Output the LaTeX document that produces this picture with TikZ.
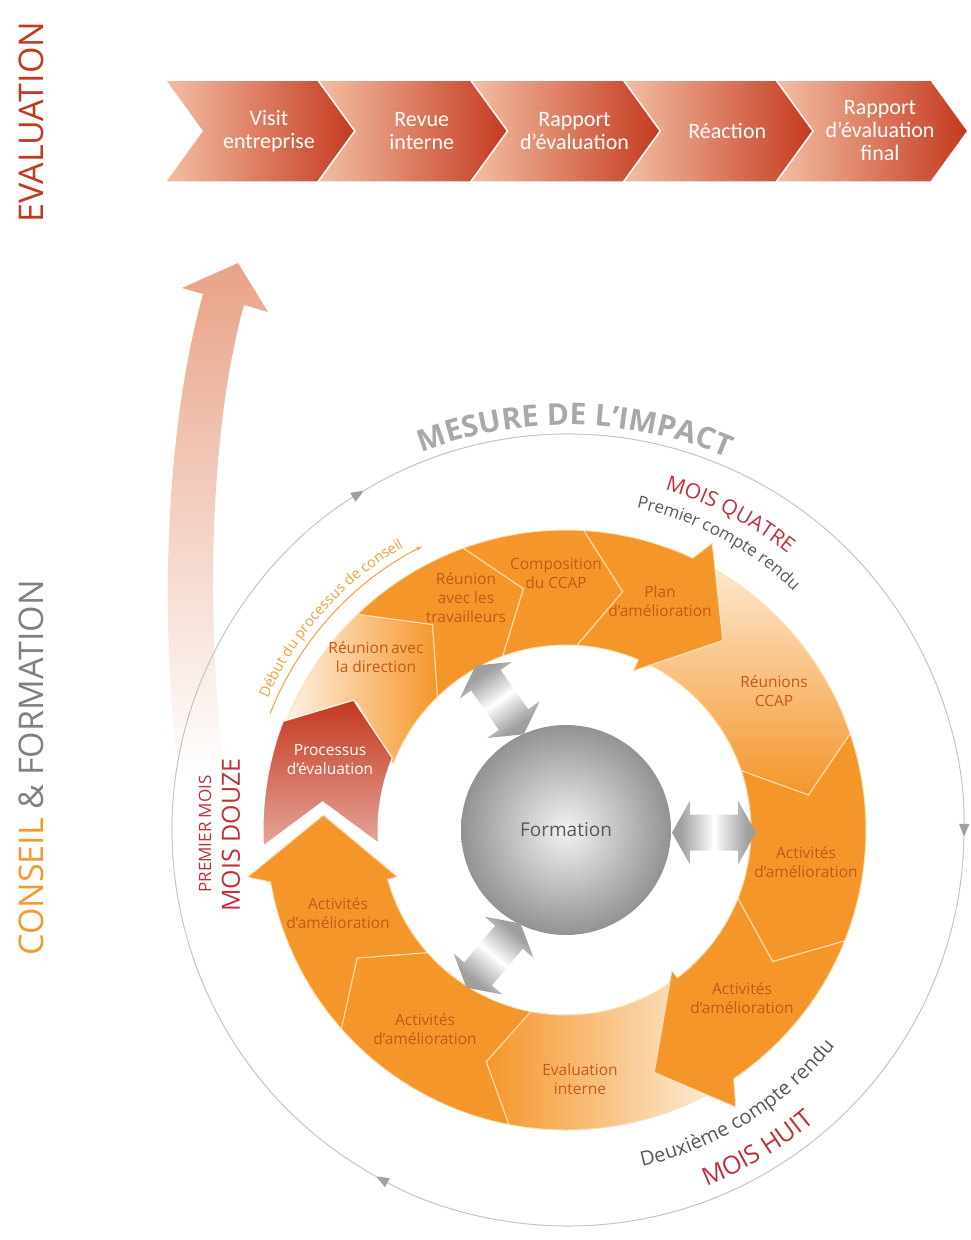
\documentclass[tikz,border=0pt]{standalone}
\usepackage{fontspec}
\setmainfont{Open Sans}
\newfontfamily\calib{Carlito}
\usepackage{xcolor}
\usetikzlibrary{positioning,calc,arrows.meta,decorations.text,shapes}

\definecolor{evalred}{HTML}{C4381E}
\definecolor{chevlight}{HTML}{F3BFA3}
\definecolor{ringorange}{HTML}{F5962A}
\definecolor{ringtext}{HTML}{C15A1B}
\definecolor{ringline}{HTML}{FCE0B4}
\definecolor{moisred}{HTML}{C0303A}
\definecolor{txtgray}{HTML}{595959}
\definecolor{titlegray}{HTML}{808080}
\definecolor{consorange}{HTML}{F29A2E}
\definecolor{circgray}{HTML}{C4C4C4}
\definecolor{tipgray}{HTML}{A0A0A0}
\definecolor{mesgray}{HTML}{A8A8A8}
\definecolor{debutorange}{HTML}{EDA23C}
\definecolor{salmonarrow}{HTML}{E9A287}

\pgfdeclarehorizontalshading{dblshade}{100bp}{color(0bp)=(gray!75); color(30bp)=(gray!75); color(45bp)=(gray!20); color(50bp)=(white); color(55bp)=(gray!20); color(70bp)=(gray!75); color(100bp)=(gray!75)}

\tikzset{
	chev/.style={left color=chevlight, right color=evalred, draw=white, line width=1.5pt},
	chevtext/.style={text=white, align=center, font=\calib\fontsize{22}{23}\selectfont},
	seg/.style={fill=ringorange, draw=ringline, line width=1pt},
	redseg/.style={top color=evalred, bottom color=evalred!45, draw=white, line width=1pt},
	segtext/.style={text=ringtext, align=center, font=\fontsize{15.5}{19}\selectfont},
	circ/.style={draw=circgray, line width=1pt, -{Triangle[length=13pt, width=10pt, color=tipgray]}},
	dblarrow/.style={shading=dblshade},
	bigtitle/.style={rotate=90, font=\fontsize{34}{34}\selectfont},
}

% one ring segment: start angle, start depth, end angle, end depth
\newcommand{\ringseg}[4]{(#1:300) arc[start angle=#1, end angle=#3, radius=300] -- ({#3-#4}:245) -- (#3:185) arc[start angle=#3, end angle=#1, radius=185] -- ({#1-#2}:245) -- cycle}

\begin{document}
\begin{tikzpicture}[x=1pt, y=1pt]
	\useasboundingbox (0,0) rectangle (971,-1240);

	% evaluation steps
	\foreach \i/\txt in {0/{Visit\\entreprise}, 1/{Revue\\interne}, 2/{Rapport\\d’évaluation}, 3/{Réaction}, 4/{Rapport\\d’évaluation\\final}} {
		\pgfmathsetmacro{\xa}{165+152.75*\i}
		\path[chev] (\xa,-80) -- ++(155,0) -- ++(37,-51) -- ++(-37,-51) -- ++(-155,0) -- ++(37,51) -- cycle;
		\node[chevtext] (etape\i) at (\xa+104,-131) {\txt};
	}

	\node[bigtitle, text=evalred] (evaltitle) at (31,-122) {EVALUATION};
	\node[bigtitle] (constitle) at (31,-768) {\textcolor{consorange}{CONSEIL} \textcolor{titlegray}{\& FORMATION}};

	% big arrow going up to the evaluation
	\path[top color=salmonarrow, bottom color=white] (178,-772) .. controls (158,-600) and (168,-420) .. (203,-294) -- (182,-288) -- (238,-263) -- (268,-312) -- (244,-305) .. controls (212,-420) and (204,-600) .. (224,-772) -- cycle;

	\begin{scope}[shift={(568,-830)}]
		\draw[circ] (241:396) arc[start angle=241, end angle=121, radius=396];
		\draw[circ] (121:396) arc[start angle=121, end angle=-1, radius=396];
		\draw[circ] (-1:396) arc[start angle=-1, end angle=-119, radius=396];
		\path[decorate, decoration={text along path, text align=center, text={|\color{mesgray}\bfseries\fontsize{30}{30}\selectfont|MESURE DE L'IMPACT}}] (120:405) arc[start angle=120, end angle=58, radius=405];
	\end{scope}

	\begin{scope}[shift={(566,-830)}]
		% ring
		\path[seg, left color=ringorange!12, right color=ringorange] \ringseg{159}{10.5}{134}{11};
		\path[seg] \ringseg{134}{11}{110}{10};
		\path[seg] \ringseg{110}{10}{86.6}{10};
		\path[seg, top color=ringorange!20, bottom color=ringorange] (64:300) arc[start angle=64, end angle=18.7, radius=300] -- (8.2:245) -- (18.7:185) arc[start angle=18.7, end angle=66, radius=185] -- (51:245) -- cycle;
		\path[seg] (86.6:300) arc[start angle=86.6, end angle=65, radius=300] -- (63:322) -- (50.4:246) -- (67:173) -- (67:185) arc[start angle=67, end angle=86.6, radius=185] -- (76.6:245) -- cycle;
		\path[seg] \ringseg{18.7}{10.5}{-21.7}{10.8};
		\path[seg, left color=ringorange, right color=ringorange!12] (-56:300) arc[start angle=-56, end angle=-101, radius=300] -- (-109:245) -- (-101:185) arc[start angle=-101, end angle=-53, radius=185] -- (-68:250) -- cycle;
		\path[seg] (-21.7:300) arc[start angle=-21.7, end angle=-56, radius=300] -- (-58.5:325) -- (-70:258) -- (-53:176) -- (-53:185) arc[start angle=-53, end angle=-21.7, radius=185] -- (-32.5:245) -- cycle;
		\path[seg] \ringseg{259}{8}{221.5}{10};
		\path[seg] (221.5:300) arc[start angle=221.5, end angle=190, radius=300] -- (188.4:322) -- (176.5:243) -- (195.5:175) -- (195.5:185) arc[start angle=195.5, end angle=221.5, radius=185] -- (211.5:245) -- cycle;
		\path[redseg] (183:303) arc[start angle=183, end angle=159, radius=303] -- (148.6:249) -- (157.5:188) arc[start angle=157.5, end angle=184, radius=188] -- (173.4:245) -- cycle;

		% centre
		\shade[inner color=gray!10, outer color=gray!85] (0,0) circle (105);
		\foreach \pa/\pr/\ori in {117/146/125, -1/148/0, 240/145/230} {
			\begin{scope}[shift={(\pa:\pr)}, rotate=\ori]
				\path[dblarrow, shading angle=\ori] (-42,0) -- (-24,32) -- (-24,18) -- (24,18) -- (24,32) -- (42,0) -- (24,-32) -- (24,-18) -- (-24,-18) -- (-24,-32) -- cycle;
			\end{scope}
		}

		% texts round the ring
		\draw[debutorange, line width=1pt, -{Stealth[length=6pt, width=4pt]}] (158.5:318) arc[start angle=158.5, end angle=117, radius=318];
		\path[decorate, decoration={text along path, text align=center, text={|\color{debutorange}\fontsize{14.5}{14.5}\selectfont|Début du processus de conseil}}] (162:326) arc[start angle=162, end angle=114, radius=326];
		\path[decorate, decoration={text along path, text align=center, text={|\color{moisred}\fontsize{21}{21}\selectfont|MOIS QUATRE}}] (85:354) arc[start angle=85, end angle=40, radius=354];
		\path[decorate, decoration={text along path, text align=center, text={|\color{txtgray}\fontsize{17}{17}\selectfont|Premier compte rendu}}] (85:330) arc[start angle=85, end angle=39, radius=330];
		\path[decorate, decoration={text along path, text align=center, text={|\color{txtgray}\fontsize{20}{20}\selectfont|Deuxième compte rendu}}] (-86:345) arc[start angle=-86, end angle=-30, radius=345];
		\path[decorate, decoration={text along path, text align=center, text={|\color{moisred}\fontsize{25}{25}\selectfont|MOIS HUIT}}] (-80:383) arc[start angle=-80, end angle=-38, radius=383];
	\end{scope}

	\node[text=txtgray, font=\fontsize{19}{19}\selectfont] (formation) at (566,-830) {Formation};
	\node[rotate=90, text=moisred, font=\fontsize{17}{17}\selectfont] (premier) at (205,-834) {PREMIER MOIS};
	\node[rotate=90, text=moisred, font=\fontsize{25}{25}\selectfont] (douze) at (231,-835) {MOIS DOUZE};

	\node[segtext, text=white] (processus) at (330,-760) {Processus\\d’évaluation};
	\node[segtext] (direction) at (376,-657) {Réunion\,avec\\la direction};
	\node[segtext] (travailleurs) at (466,-598) {Réunion\\avec les\\travailleurs};
	\node[segtext] (ccap) at (556,-573) {Composition\\du CCAP};
	\node[segtext] (plan) at (660,-601) {Plan\\d’amélioration};
	\node[segtext] (reunions) at (774,-691) {Réunions\\CCAP};
	\node[segtext] (act1) at (806,-862) {Activités\\d’amélioration};
	\node[segtext] (act2) at (742,-998) {Activités\\d’amélioration};
	\node[segtext] (interne) at (580,-1079) {Evaluation\\interne};
	\node[segtext] (act3) at (425,-1029) {Activités\\d’amélioration};
	\node[segtext] (act4) at (338,-913) {Activités\\d’amélioration};
\end{tikzpicture}
\end{document}
